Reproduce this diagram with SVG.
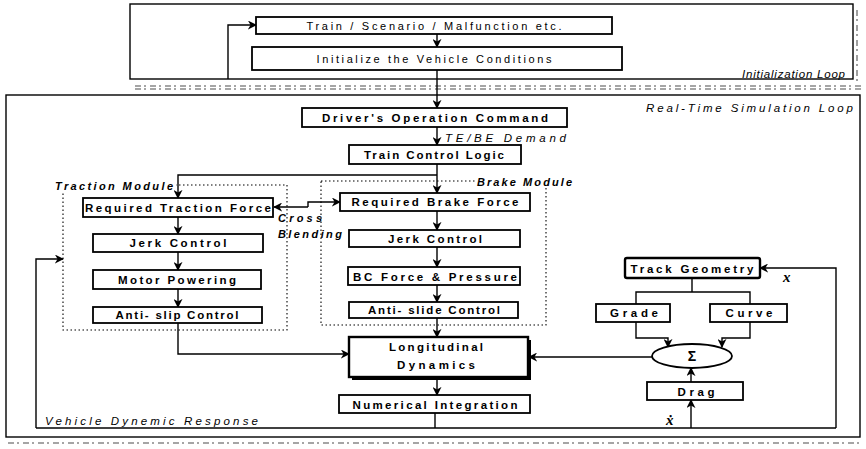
<svg xmlns="http://www.w3.org/2000/svg" width="866" height="449" viewBox="0 0 866 449">
<defs>
<marker id="ah" viewBox="0 0 10 10" refX="9" refY="5" markerWidth="9" markerHeight="9" markerUnits="userSpaceOnUse" orient="auto">
<path d="M0,0 L10,5 L0,10 L3,5 z" fill="#000"/>
</marker>
<marker id="ahs" viewBox="0 0 10 10" refX="9" refY="5" markerWidth="9" markerHeight="9" markerUnits="userSpaceOnUse" orient="auto-start-reverse">
<path d="M0,0 L10,5 L0,10 L3,5 z" fill="#000"/>
</marker>
</defs>
<style>
.box{fill:#fff;stroke:#000;stroke-width:1.8}
.frame{fill:none;stroke:#000;stroke-width:1.4}
.mod{fill:none;stroke:#000;stroke-width:1.1;stroke-dasharray:1.5 2.5}
.c{fill:none;stroke:#000;stroke-width:1.4}
.a{marker-end:url(#ah)}
.t{font-family:"Liberation Sans",Arial,sans-serif;font-size:11.5px;font-weight:bold;text-anchor:middle;fill:#000}
.tn{font-family:"Liberation Sans",Arial,sans-serif;font-size:11px;text-anchor:middle;fill:#000}
.lab{font-family:"Liberation Sans",Arial,sans-serif;font-size:11.5px;font-style:italic;fill:#000}
.labb{font-family:"Liberation Sans",Arial,sans-serif;font-size:11px;font-style:italic;font-weight:bold;fill:#000}
.noise{fill:none;stroke:#888;stroke-width:1.6;stroke-dasharray:6 3 2 4}
</style>
<rect width="866" height="449" fill="#fff"/>

<g id="frames">
<rect class="frame" x="130" y="4" width="723" height="75"/>
<rect class="frame" x="6" y="95" width="854" height="342"/>
<line class="noise" x1="135" y1="86" x2="862" y2="86"/>
<line class="noise" x1="135" y1="89" x2="862" y2="89"/>
<line class="noise" x1="857" y1="10" x2="857" y2="84"/>
<line class="noise" x1="8" y1="443" x2="862" y2="443"/>
<rect class="mod" x="63" y="185" width="224" height="145"/>
<rect class="mod" x="321" y="181" width="225" height="144"/>
</g>

<g id="labels">
<text class="lab" x="845" y="78" text-anchor="end" textLength="103">Initialization Loop</text>
<text class="lab" x="853" y="112" text-anchor="end" textLength="207">Real-Time Simulation Loop</text>
<text class="lab" x="445" y="142" textLength="121">TE/BE Demand</text>
<rect x="52" y="179" width="124" height="14" fill="#fff"/>
<text class="labb" x="55" y="190" textLength="118">Traction Module</text>
<rect x="476" y="174" width="98" height="14" fill="#fff"/>
<text class="labb" x="477" y="186" textLength="95">Brake Module</text>
<text class="labb" x="278" y="222" textLength="44">Cross</text>
<text class="labb" x="278" y="238" textLength="64">Blending</text>
<text class="lab" x="45" y="425" textLength="213">Vehicle Dynemic Response</text>
<text x="783" y="282" font-family="Liberation Serif,serif" font-style="italic" font-weight="bold" font-size="15">x</text>
<text x="666" y="425" font-family="Liberation Serif,serif" font-style="italic" font-weight="bold" font-size="15">ẋ</text>
</g>

<g id="connectors">
<line class="c a" x1="437" y1="34" x2="437" y2="47"/>
<line class="c a" x1="437" y1="70" x2="437" y2="108"/>
<polyline class="c a" points="228,79 228,25 256,25"/>
<line class="c a" x1="437" y1="127" x2="437" y2="145"/>
<line class="c a" x1="437" y1="164" x2="437" y2="193"/>
<polyline class="c a" points="437,175 178,175 178,198"/>
<line class="c a" x1="178" y1="217" x2="178" y2="234"/>
<line class="c a" x1="178" y1="252" x2="178" y2="270"/>
<line class="c a" x1="178" y1="289" x2="178" y2="307"/>
<polyline class="c a" points="178,323 178,354 349,354"/>
<line class="c a" x1="437" y1="211" x2="437" y2="230"/>
<line class="c a" x1="437" y1="247" x2="437" y2="267"/>
<line class="c a" x1="437" y1="285" x2="437" y2="302"/>
<line class="c a" x1="437" y1="318" x2="437" y2="337"/>
<line class="c a" x1="437" y1="377" x2="437" y2="395"/>
<polyline class="c" points="36,428 836,428"/>
<line class="c" x1="435" y1="413" x2="435" y2="428"/>
<polyline class="c a" points="36,428 36,259 63,259"/>
<polyline class="c a" points="836,428 836,268 760,268"/>
<line class="c a" x1="691" y1="428" x2="691" y2="400"/>
<line class="c a" x1="691" y1="382" x2="691" y2="368"/>
<polyline class="c" points="692,278 692,292"/>
<polyline class="c" points="636,304 636,292 750,292 750,304"/>
<polyline class="c a" points="636,322 636,338 668,338 668,347"/>
<polyline class="c a" points="750,322 750,338 722,338 722,347"/>
<line class="c a" x1="652" y1="357" x2="529" y2="357"/>
<polyline class="c a" points="308,207 308,202 340,202"/>
<line class="c a" x1="308" y1="207" x2="274" y2="207"/>
</g>

<g id="n-train"><rect class="box" x="256" y="17" width="356" height="17"/><text class="tn" x="434" y="30" textLength="255">Train / Scenario / Malfunction etc.</text></g>
<g id="n-init"><rect class="box" x="252" y="47" width="370" height="23"/><text class="tn" x="434" y="63" textLength="235">Initialize the Vehicle Conditions</text></g>
<g id="n-driver"><rect class="box" x="302" y="108" width="265" height="19"/><text class="t" x="435" y="122" textLength="226">Driver's Operation Command</text></g>
<g id="n-tcl"><rect class="box" x="349" y="145" width="172" height="19"/><text class="t" x="434" y="159" textLength="140">Train Control Logic</text></g>
<g id="n-rtf"><rect class="box" x="83" y="198" width="190" height="19"/><text class="t" x="178" y="212" textLength="186">Required Traction Force</text></g>
<g id="n-jerk-t"><rect class="box" x="93" y="234" width="170" height="18"/><text class="t" x="178" y="247" textLength="97">Jerk Control</text></g>
<g id="n-motor"><rect class="box" x="93" y="270" width="168" height="19"/><text class="t" x="177" y="284" textLength="118">Motor Powering</text></g>
<g id="n-antislip"><rect class="box" x="93" y="307" width="169" height="16"/><text class="t" x="177" y="319" textLength="123">Anti- slip Control</text></g>
<g id="n-rbf"><rect class="box" x="340" y="193" width="190" height="18"/><text class="t" x="435" y="206" textLength="167">Required Brake Force</text></g>
<g id="n-jerk-b"><rect class="box" x="349" y="230" width="171" height="17"/><text class="t" x="435" y="243" textLength="94">Jerk Control</text></g>
<g id="n-bc"><rect class="box" x="348" y="267" width="172" height="18"/><text class="t" x="435" y="281" textLength="164">BC Force &amp; Pressure</text></g>
<g id="n-antislide"><rect class="box" x="349" y="302" width="169" height="16"/><text class="t" x="434" y="314" textLength="132">Anti- slide Control</text></g>
<g id="n-long"><rect x="352" y="340" width="179" height="40" fill="#000"/><rect class="box" x="349" y="337" width="179" height="40" style="stroke-width:2.4"/><text class="t" x="436" y="351" textLength="94">Longitudinal</text><text class="t" x="436" y="369" textLength="78">Dynamics</text></g>
<g id="n-numint"><rect class="box" x="339" y="395" width="191" height="18"/><text class="t" x="435" y="409" textLength="165">Numerical Integration</text></g>
<g id="n-track"><rect class="box" x="625" y="258" width="135" height="20" rx="2" style="stroke-width:2.4"/><text class="t" x="692" y="273" textLength="123">Track Geometry</text></g>
<g id="n-grade"><rect class="box" x="596" y="304" width="74" height="18"/><text class="t" x="634" y="317" textLength="48">Grade</text></g>
<g id="n-curve"><rect class="box" x="710" y="304" width="77" height="18"/><text class="t" x="749" y="317" textLength="47">Curve</text></g>
<g id="n-sum"><ellipse cx="692" cy="356" rx="40" ry="12" fill="#fff" stroke="#000" stroke-width="1.8"/><text class="t" x="692" y="361" style="font-size:14px">Σ</text></g>
<g id="n-drag"><rect class="box" x="647" y="382" width="96" height="18"/><text class="t" x="696" y="396" textLength="37">Drag</text></g>
</svg>
